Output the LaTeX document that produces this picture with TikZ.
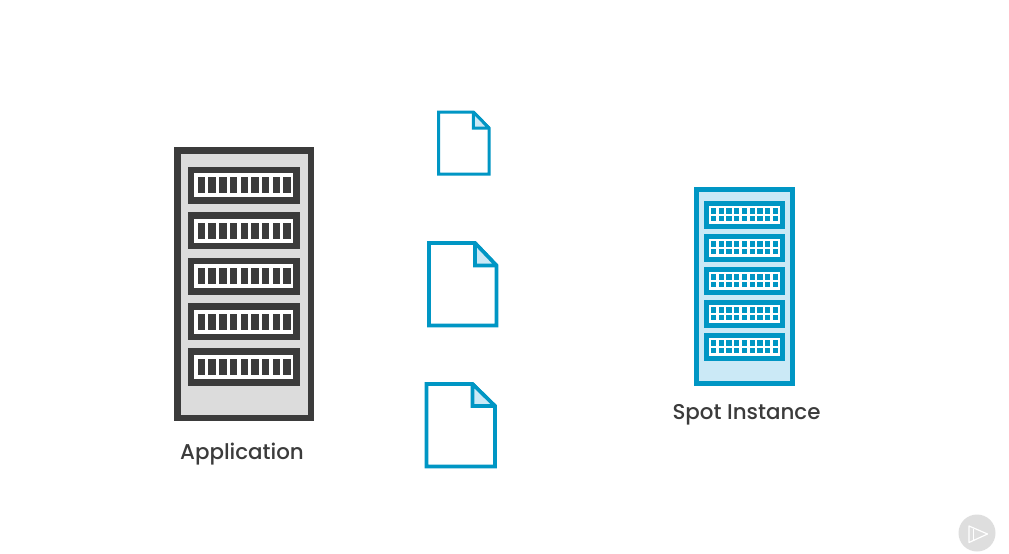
\documentclass[tikz,border=0pt]{standalone}
\usepackage{fontspec}
\setmainfont{Poppins Medium}
\definecolor{dark}{HTML}{3B3B3B}
\definecolor{rackgrey}{HTML}{DCDCDC}
\definecolor{blue}{HTML}{0096C4}
\definecolor{pale}{HTML}{CBE9F6}
\definecolor{btn}{HTML}{DEDEDE}
\tikzset{
  docline/.style={draw=blue,fill=white,line join=miter,miter limit=2},
  foldfill/.style={draw=blue,fill=pale,line join=miter,miter limit=2},
  lbl/.style={text=dark,font=\fontsize{21.4}{24}\selectfont,inner sep=0pt,anchor=center}
}
\newcommand{\docicon}[7]{% left,top,right,bottom,foldx,foldy,width
  \draw[docline,line width=#7pt] (#1,#2) -- (#5,#2) -- (#3,#6) -- (#3,#4) -- (#1,#4) -- cycle;
  \draw[foldfill,line width=#7pt] (#5,#2) -- (#3,#6) -- (#5,#6) -- cycle;
}
\begin{document}
\begin{tikzpicture}[x=1pt,y=-1pt]
\useasboundingbox (0,0) rectangle (1009,554);
\fill[white] (0,0) rectangle (1009,554);

% Application rack
\fill[dark] (174,147) rectangle (314,421);
\fill[rackgrey] (180.5,153.5) rectangle (307.5,414.5);
\foreach \i in {0,...,4}{
  \pgfmathsetmacro{\ty}{166.7+45.4*\i}
  \fill[dark] (187.7,\ty) rectangle (300,\ty+37.3);
  \fill[white] (194.3,\ty+6.6) rectangle (293.3,\ty+30.6);
  \foreach \j in {0,...,8}{
    \pgfmathsetmacro{\cx}{197.7+10.72*\j}
    \fill[dark] (\cx,\ty+10.6) rectangle (\cx+7.4,\ty+26.6);
  }
}
\node[lbl] (app) at (242,453.8) {Application};

% Spot Instance rack
\fill[blue] (693.7,186.7) rectangle (795.3,386);
\fill[pale] (698.7,191.7) rectangle (790.3,381);
\foreach \i in {0,...,4}{
  \pgfmathsetmacro{\ty}{201.3+33*\i}
  \fill[blue] (703.7,\ty) rectangle (785.3,\ty+27.4);
  \fill[white] (708.7,\ty+5) rectangle (780.3,\ty+22.4);
  \foreach \j in {0,...,8}{
    \pgfmathsetmacro{\cx}{711+7.72*\j}
    \fill[blue] (\cx,\ty+7) rectangle (\cx+5.2,\ty+12.2);
    \fill[blue] (\cx,\ty+14.7) rectangle (\cx+5.2,\ty+19.9);
  }
}
\node[lbl] (spot) at (746.5,414.8) {Spot Instance};

% Documents
\docicon{438.7}{112}{489}{174}{473.3}{128}{3}
\docicon{429}{243}{496.5}{325.5}{475}{265.5}{3.6}
\docicon{426.5}{384}{495}{466.5}{472.5}{406}{3.6}

% Play button
\fill[btn] (977,533) circle (18.5);
\draw[white,line width=1.2pt,line join=round] (969,526) -- (987.5,534) -- (969,542.5) -- cycle;
\draw[white,line width=1.2pt,line join=round] (973.5,528.5) -- (973.5,540);
\end{tikzpicture}
\end{document}
